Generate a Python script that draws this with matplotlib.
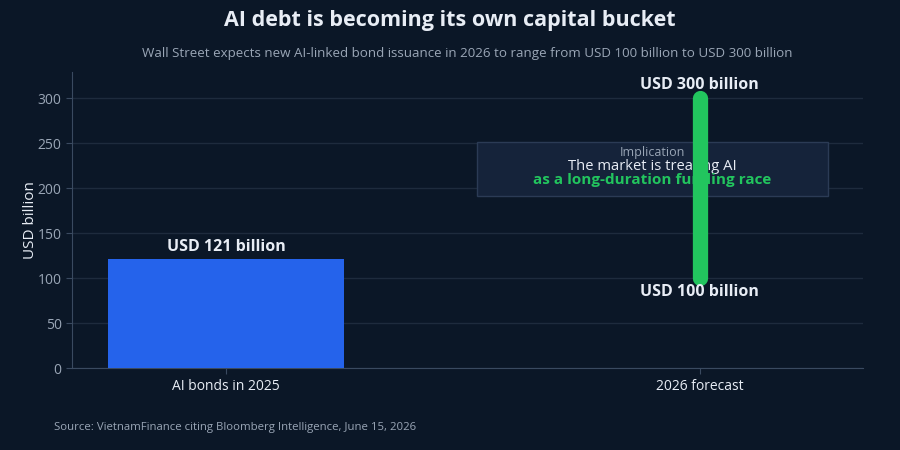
import matplotlib
matplotlib.use("Agg")
import matplotlib.pyplot as plt
from matplotlib.patches import Rectangle

plt.rcParams['font.family'] = ['Open Sans', 'DejaVu Sans']

# data
categories = ['AI bonds in 2025', '2026 forecast']
bond_2025 = 121
forecast_low = 100
forecast_high = 300
bar_label = 'USD 121 billion'
low_label = 'USD 100 billion'
high_label = 'USD 300 billion'
yticks = [0, 50, 100, 150, 200, 250, 300]

BG = '#0b1727'
GRID = '#1e2b3d'
BLUE = '#2563eb'
GREEN = '#22c55e'
TXT = '#e8edf5'
MUTED = '#9aa6b6'

fig = plt.figure(figsize=(9, 4.5), dpi=100, facecolor=BG)
ax = fig.add_axes([0.08, 0.182, 0.879, 0.658])
ax.set_facecolor(BG)

x = list(range(len(categories)))

# bar for 2025
ax.bar(x[0], bond_2025, width=0.5, color=BLUE, zorder=3)
ax.text(x[0], bond_2025 + 5, bar_label, ha='center', va='bottom',
        color=TXT, fontsize=11.5, fontweight='bold')

# implication box
ax.add_patch(Rectangle((0.53, 191), 0.74, 60, facecolor='#15233a',
                       edgecolor='#2b3b55', linewidth=1, zorder=4))
ax.text(0.9, 239, 'Implication', ha='center', va='center', color=MUTED,
        fontsize=9, zorder=5)
ax.text(0.9, 224, 'The market is treating AI', ha='center', va='center',
        color=TXT, fontsize=10.6, zorder=5)
ax.text(0.9, 209, 'as a long-duration funding race', ha='center', va='center',
        color=GREEN, fontsize=11, fontweight='bold', zorder=5)

# forecast range
ax.plot([x[1], x[1]], [forecast_low, forecast_high], color=GREEN,
        linewidth=11, solid_capstyle='round', zorder=6)
ax.text(x[1], forecast_high + 6, high_label, ha='center', va='bottom',
        color=TXT, fontsize=11.5, fontweight='bold', zorder=7)
ax.text(x[1], forecast_low - 6, low_label, ha='center', va='top',
        color=TXT, fontsize=11.5, fontweight='bold', zorder=7)

ax.set_xlim(-0.325, 1.345)
ax.set_ylim(0, 329)
ax.set_xticks(x)
ax.set_xticklabels(categories)
ax.set_yticks(yticks)
ax.tick_params(axis='x', colors='#3a4a60', labelcolor=TXT, labelsize=10, length=4)
ax.tick_params(axis='y', colors='#3a4a60', labelcolor=MUTED, labelsize=10, length=4)
ax.grid(axis='y', color=GRID, linewidth=1, zorder=0)
for s in ['top', 'right']:
    ax.spines[s].set_visible(False)
for s in ['left', 'bottom']:
    ax.spines[s].set_color('#3a4a60')
ax.set_ylabel('USD billion', color=TXT, fontsize=11, labelpad=0)

fig.text(0.5, 0.955, 'AI debt is becoming its own capital bucket', ha='center',
         va='center', color=TXT, fontsize=15.5, fontweight='bold')
fig.text(0.519, 0.882, 'Wall Street expects new AI-linked bond issuance in 2026 to range '
         'from USD 100 billion to USD 300 billion', ha='center', va='center',
         color=MUTED, fontsize=9.65)
fig.text(0.06, 0.051, 'Source: VietnamFinance citing Bloomberg Intelligence, June 15, 2026',
         ha='left', va='center', color=MUTED, fontsize=8.2)

fig.savefig('out.png', dpi=100, facecolor=BG)
